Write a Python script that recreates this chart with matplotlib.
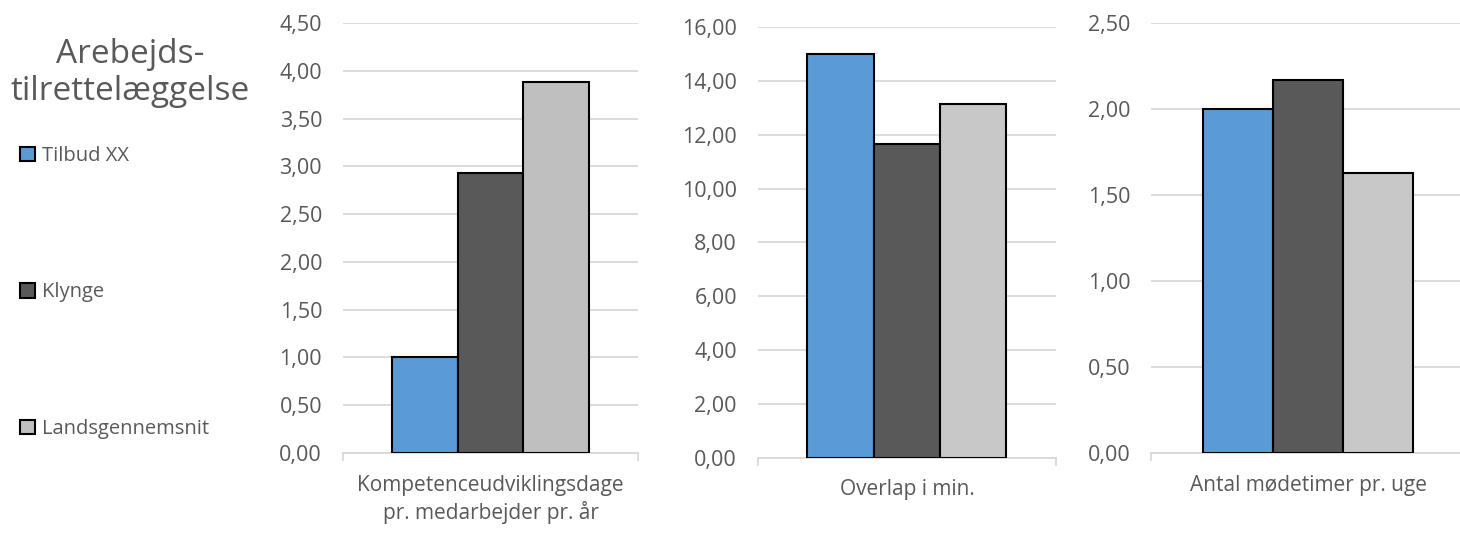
import numpy as np
import matplotlib.pyplot as plt
from matplotlib.ticker import FuncFormatter

plt.rcParams['font.family'] = ['Open Sans', 'DejaVu Sans']

# data
series = ['Tilbud XX', 'Klynge', 'Landsgennemsnit']
categories = ['Kompetenceudviklingsdage\npr. medarbejder pr. år',
              'Overlap i min.',
              'Antal mødetimer pr. uge']
values = [
    [1.00, 2.93, 3.88],
    [15.00, 11.65, 13.14],
    [2.00, 2.165, 1.625],
]
y_max = [4.5, 16, 2.5]
y_step = [0.5, 2, 0.5]
title = 'Arebejds-\ntilrettelæggelse'

# colours
blue = '#5B9BD5'
dark = '#595959'
light = ['#BFBFBF', '#C8C8C8', '#C8C8C8']
grid_c = '#D9D9D9'
text_c = '#595959'

fig = plt.figure(figsize=(14.6, 5.45), dpi=100)

# axes rectangles in figure fraction (left, bottom, width, height)
rects = [
    (0.2349, 0.1688, 0.2021, 0.789),
    (0.5190, 0.1602, 0.2043, 0.7897),
    (0.7884, 0.1683, 0.2151, 0.790),
]

xpos = np.array([-1, 0, 1])
handles = None
for i, (vals, cat) in enumerate(zip(values, categories)):
    ax = fig.add_axes(rects[i])
    cols = [blue, dark, light[i]]
    bars = ax.bar(xpos, vals, width=1.0, color=cols, edgecolor='black',
                  linewidth=1.5, zorder=3)
    if handles is None:
        handles = bars.patches
    ax.set_xlim(-2.25, 2.25)
    ax.set_ylim(0, y_max[i])
    ax.set_yticks(np.arange(0, y_max[i] + 1e-9, y_step[i]))
    ax.yaxis.set_major_formatter(FuncFormatter(lambda v, p: f'{v:.2f}'.replace('.', ',')))
    ax.grid(True, axis='y', color=grid_c, linewidth=1.3, zorder=0)
    ax.set_axisbelow(True)
    for s in ['top', 'right', 'left']:
        ax.spines[s].set_visible(False)
    ax.spines['bottom'].set_color(grid_c)
    ax.spines['bottom'].set_linewidth(1.3)
    ax.set_xticks([-2.25, 2.25])
    ax.set_xticklabels([])
    ax.tick_params(axis='x', length=6, width=1.3, color=grid_c)
    ax.tick_params(axis='y', length=0, pad=15, labelsize=15.5, labelcolor=text_c)
    ax.set_xlabel(cat, fontsize=15, color=text_c, labelpad=6, linespacing=1.3)

# title on the left (baseline of the second line)
fig.text(130 / 1460, 1 - 100 / 545, title, ha='center', va='baseline',
         fontsize=24, color=text_c, linespacing=1.15, multialignment='center')

leg = fig.legend(handles, series, loc='upper left',
                 bbox_to_anchor=(20 / 1460, 1 - 146 / 545),
                 frameon=False, fontsize=14.5, labelcolor=text_c,
                 handlelength=0.72, handleheight=0.72, handletextpad=0.35,
                 labelspacing=5.78, borderpad=0, borderaxespad=0)

fig.savefig('out.png', dpi=100)
